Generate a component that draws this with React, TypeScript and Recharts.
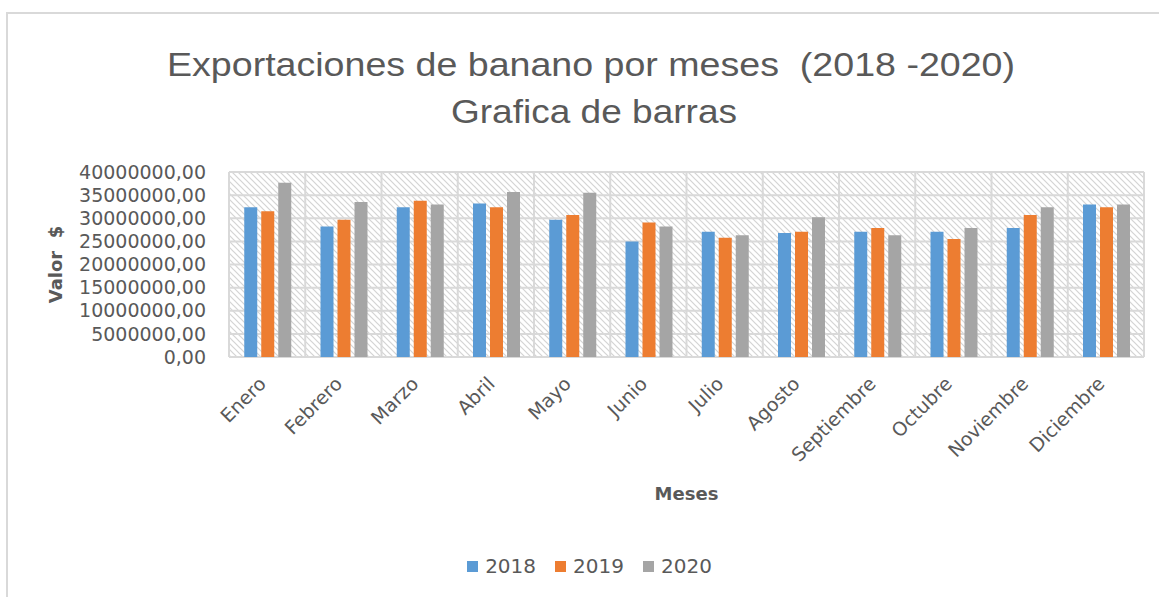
import React from 'react';
import { BarChart, Bar, XAxis, YAxis, CartesianGrid, Legend, Label } from 'recharts';

const months = ['Enero', 'Febrero', 'Marzo', 'Abril', 'Mayo', 'Junio', 'Julio', 'Agosto', 'Septiembre', 'Octubre', 'Noviembre', 'Diciembre'];
const v2018 = [32400000, 28200000, 32400000, 33200000, 29700000, 25000000, 27100000, 26800000, 27100000, 27100000, 27900000, 33000000];
const v2019 = [31500000, 29700000, 33800000, 32400000, 30700000, 29100000, 25800000, 27100000, 27900000, 25500000, 30700000, 32400000];
const v2020 = [37700000, 33500000, 33000000, 35700000, 35500000, 28200000, 26300000, 30200000, 26300000, 27900000, 32400000, 33000000];
const yTicks = [0, 5000000, 10000000, 15000000, 20000000, 25000000, 30000000, 35000000, 40000000];
const titleLines = ['Exportaciones de banano por meses  (2018 -2020)', 'Grafica de barras'];
const seriesNames = ['2018', '2019', '2020'];
const colors = ['#5B9BD5', '#ED7D31', '#A5A5A5'];

const data = months.map((m, i) => ({ mes: m, '2018': v2018[i], '2019': v2019[i], '2020': v2020[i] }));

const FONT = '"DejaVu Sans", sans-serif';
const TXT = '#595959';

const fmt = (v: number) => v.toFixed(2).replace('.', ',');

const LegendContent = (props: any) => {
  const payload = props.payload || [];
  return (
    <div style={{ display: 'flex', justifyContent: 'center', alignItems: 'center', height: 30, paddingLeft: 35, fontFamily: FONT, fontSize: 20, color: TXT }}>
      {payload.map((p: any, i: number) => (
        <div key={i} style={{ display: 'flex', alignItems: 'center', marginRight: i < payload.length - 1 ? 19 : 0 }}>
          <div style={{ width: 11, height: 11, background: p.color, marginRight: 7 }} />
          <span>{p.value}</span>
        </div>
      ))}
    </div>
  );
};

const MonthTick = (props: any) => {
  const { x, y, payload } = props;
  return (
    <g transform={`translate(${x},${y + 28})`}>
      <text x={0} y={0} transform="rotate(-45)" textAnchor="end" fontFamily={FONT} fontSize={19} fill={TXT}>{payload.value}</text>
    </g>
  );
};

export default function App() {
  return (
    <div style={{ position: 'absolute', left: 0, top: 0, width: 1159, height: 597, background: '#fff' }}>
      <svg width={1159} height={597} style={{ position: 'absolute', left: 0, top: 0 }}>
        <defs>
          <pattern id="hatch" patternUnits="userSpaceOnUse" width={6} height={6}>
            <rect width={6} height={6} fill="#ffffff" />
            <path d="M0,0 L6,6 M-1,5 L1,7 M5,-1 L7,1" stroke="#d4d4d4" strokeWidth={1.2} />
          </pattern>
        </defs>
        <rect x={7} y={13} width={1170} height={600} fill="none" stroke="#d9d9d9" strokeWidth={2} />
        <text x={591} y={76} textAnchor="middle" fontFamily='"Liberation Sans", sans-serif' fontSize={34} fill={TXT} style={{ whiteSpace: 'pre' }} textLength={848} lengthAdjust="spacingAndGlyphs">{titleLines[0]}</text>
        <text x={594} y={123} textAnchor="middle" fontFamily='"Liberation Sans", sans-serif' fontSize={34} fill={TXT} textLength={286} lengthAdjust="spacingAndGlyphs">{titleLines[1]}</text>
      </svg>
      <div style={{ position: 'absolute', left: 0, top: 0 }}>
        <BarChart width={1159} height={597} data={data} margin={{ top: 172, right: 15, left: 0, bottom: 16 }} barCategoryGap="20%" barGap={4}>
          <CartesianGrid
            stroke="#d9d9d9"
            strokeWidth={2}
            fill="url(#hatch)"
            fillOpacity={1}
            verticalCoordinatesGenerator={({ offset }: any) => Array.from({ length: months.length + 1 }, (_, i) => offset.left + (i * offset.width) / months.length)}
          />
          <XAxis
            dataKey="mes"
            interval={0}
            height={194}
            axisLine={false}
            tickLine={false}
            tickSize={0}
            tickMargin={0}
            tick={<MonthTick />}
          >
            <Label
              content={({ viewBox }: any) => (
                <text x={viewBox.x + viewBox.width / 2} y={viewBox.y + 138} textAnchor="middle" dominantBaseline="middle" fontFamily={FONT} fontSize={18} fontWeight="bold" fill={TXT}>Meses</text>
              )}
            />
          </XAxis>
          <YAxis
            width={229}
            domain={[0, 40000000]}
            ticks={yTicks}
            interval={0}
            axisLine={false}
            tickLine={false}
            tickSize={0}
            tickMargin={23}
            tickFormatter={fmt}
            tick={{ fontFamily: FONT, fontSize: 19, fill: TXT }}
          >
            <Label
              content={({ viewBox }: any) => {
                const cx = viewBox.x + 57;
                const cy = viewBox.y + viewBox.height / 2;
                return (
                  <text x={cx} y={cy} transform={`rotate(-90 ${cx} ${cy})`} textAnchor="middle" dominantBaseline="middle" fontFamily={FONT} fontSize={18} fontWeight="bold" fill={TXT} style={{ whiteSpace: 'pre' }}>Valor  $</text>
                );
              }}
            />
          </YAxis>
          <Legend verticalAlign="bottom" content={<LegendContent />} />
          {seriesNames.map((s, i) => (
            <Bar key={s} dataKey={s} name={s} fill={colors[i]} isAnimationActive={false} />
          ))}
        </BarChart>
      </div>
    </div>
  );
}
